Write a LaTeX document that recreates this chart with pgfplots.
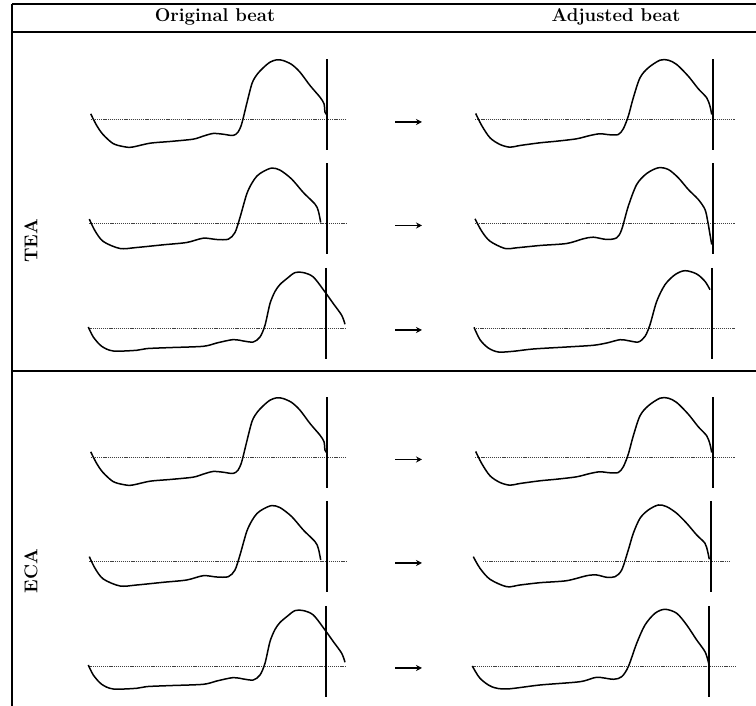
\documentclass[border=0pt]{standalone}
\usepackage{fontspec}
\usepackage{pgfplots}
\usepackage{pgfplotstable}
\pgfplotsset{compat=1.18}
\usetikzlibrary{arrows.meta}

% local x = pixel position inside the panel, y = height above the baseline
\pgfplotstableread{
x y
5.7 5.7
11.7 -6
18 -15
28 -24
38 -27
46.7 -27.7
65 -23.7
85 -22
108 -19.7
118 -16.7
128 -14
138 -14.7
148 -16
153 -12.7
156.7 -4.3
161.7 15.7
167 36
172 45
178 51.5
185 57.3
191.7 59.7
198 59
206.7 55
215 47.3
225 34
235 22.3
239 15.7
240 7.3
241.7 5
}\Lone
\pgfplotstableread{
x y
4.3 4.4
10 -7.3
18.3 -18
35 -25
51.7 -24
78.3 -21.3
101.7 -19
118.3 -14.7
131.7 -16
143.3 -15.7
150 -9
155 6
161.7 29.4
167 40.5
172 47.5
178.3 52
186.7 55.4
195 53.4
206.7 44.4
218.3 31
230 19.4
233.3 12.7
235.7 1
}\Ltwo
\pgfplotstableread{
x y
3.3 1
8.3 -9
16.7 -18.3
28.3 -23
51.7 -22.3
61.7 -20.6
85 -19.6
118.3 -18.3
131.7 -15
148.3 -11.6
158.3 -13
168.3 -14
175 -9
180 2.7
185 24.4
190 36.5
195 43.5
202 49.5
210 55.4
218.3 55.4
228.3 51
240 36
248.3 24.4
256.7 12.7
260 3.7
}\Lthree
\pgfplotstableread{
x y
5.7 6
11.7 -6
20 -18.3
30 -25
40 -27.7
50 -26
70 -23.3
86.7 -21.7
106.7 -19.3
120 -16
130 -14.3
140 -15.3
148.3 -15
153.3 -9.3
158.3 3.3
163.3 21.7
170 41.7
178.3 51.7
190 59.3
198.3 59.3
206.7 55
218.3 43.3
228.3 30.7
236.7 21.7
240 13.3
241.7 5
}\Rone
\pgfplotstableread{
x y
5 4.7
11.7 -7.7
20 -17.7
35 -25
46.7 -24.3
70 -22
96.7 -20
113.3 -15.3
123.3 -13.7
136.7 -16
146.7 -14.3
151.7 -6
158.3 17.3
166.7 39
176.7 50
188.3 55.7
198.3 54
208.3 45.7
218.3 34
228.3 24
235 14
237.7 2.3
240 -11
241.7 -21
}\Rtwo
\pgfplotstableread{
x y
4 0.7
10 -11.7
18.3 -20
28.3 -24
43.3 -23.3
63.3 -21
96.7 -19
123.3 -17.3
136.7 -15
150 -11.7
158.3 -12.7
168.3 -14
175 -8.4
180 3.3
186.7 26.6
195 43.3
205 53.3
215 57.3
226.7 54
235 46.6
240 38.3
}\Rthree
\pgfplotstableread{
x y
3.3 4.3
10 -7.3
20 -18.3
36.7 -25.7
50 -24
70 -21.7
96.7 -19.7
116.7 -14.7
126.7 -14
136.7 -16.3
145 -15.7
151.7 -9
158.3 11
163.3 27.7
170 42.7
178.3 51
188.3 56
196.7 54.3
206.7 47.7
216.7 37.7
226.7 26
235 17.7
237.7 9.3
239.3 1.7
}\Rfive
\pgfplotstableread{
x y
2.3 0
10 -12.3
21.7 -20.7
36.7 -23
70 -19
110 -15.7
126.7 -11.3
143.3 -13.3
151.7 -10.7
158.3 -0.7
166.7 22.7
175 41
185 52.7
195 56.7
206.7 52.7
216.7 41
226.7 26
235 14.3
238.3 4.3
239.3 0
}\Rsix

\pgfplotsset{
  panel/.style={scale only axis, hide axis, clip=false,
    width=270pt, height=110pt, xmin=0, xmax=270, ymin=-40, ymax=70,
    anchor=south west},
  wave/.style={black, line width=1.5pt, smooth, tension=0.5, no marks},
  base/.style={black!75, line width=0.6pt, dash pattern=on 1.2pt off 0.9pt, no marks},
  vline/.style={black, line width=1.8pt, no marks},
}
% #1 panel left x, #2 panel bottom y, #3 table, #4 dotted start, #5 dotted end, #6 vertical line x
\newcommand\panel[6]{%
  \begin{axis}[panel, at={(#1pt,#2pt)}]
    \addplot[base] coordinates {(#4,0) (#5,0)};
    \addplot[wave] table {#3};
    \addplot[vline] coordinates {(#6,60) (#6,-31)};
  \end{axis}}
\newcommand\arrowat[1]{%
  \draw[line width=1.6pt, -{Stealth[length=6pt,width=6pt]}] (395pt,#1pt) -- (422pt,#1pt);}

\begin{document}
\begin{tikzpicture}
\useasboundingbox (0,0) rectangle (756pt,706pt);
% frame
\draw[line width=1.4pt] (12pt,702pt) -- (756pt,702pt);
\draw[line width=1.6pt] (12pt,674pt) -- (756pt,674pt);
\draw[line width=1.6pt] (12pt,335pt) -- (756pt,335pt);
\draw[line width=1.4pt] (12pt,702pt) -- (12pt,0pt);
% headers
\node[font=\fontsize{18.5}{22}\selectfont\bfseries] at (215pt,689pt) {Original beat};
\node[font=\fontsize{18.5}{22}\selectfont\bfseries] at (616pt,689pt) {Adjusted beat};
\node[font=\fontsize{18.5}{22}\selectfont\bfseries, rotate=90] at (31pt,465pt) {TEA};
\node[font=\fontsize{18.5}{22}\selectfont\bfseries, rotate=90] at (31pt,135pt) {ECA};
% TEA rows
\panel{85}{546.5}{\Lone}{5.7}{261.7}{242}
\panel{470}{546.5}{\Rone}{5}{265}{243.3}
\panel{85}{442.5}{\Ltwo}{4.3}{262}{241.7}
\panel{470}{442.5}{\Rtwo}{5}{265}{243.3}
\panel{85}{338}{\Lthree}{3.3}{261}{240.7}
\panel{470}{338}{\Rthree}{4}{265}{241.7}
% ECA rows
\panel{85}{208.5}{\Lone}{5.7}{261.7}{242}
\panel{470}{208.5}{\Rone}{5}{265}{243.3}
\panel{85}{105}{\Ltwo}{4.3}{262}{241.7}
\panel{470}{105}{\Rfive}{13}{260}{240.7}
\panel{85}{0}{\Lthree}{3.3}{261}{240.7}
\panel{470}{0}{\Rsix}{2.3}{265}{239.3}
% arrows
\arrowat{584}
\arrowat{480.5}
\arrowat{376}
\arrowat{246.5}
\arrowat{143}
\arrowat{38}
\end{tikzpicture}
\end{document}
